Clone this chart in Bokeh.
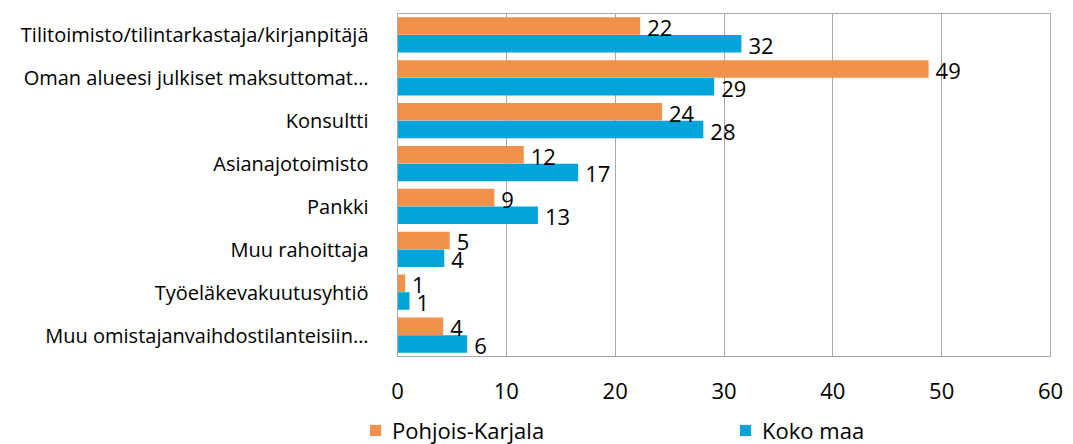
from bokeh.plotting import figure
from bokeh.layouts import column
from bokeh.models import ColumnDataSource, FactorRange, Range1d, FixedTicker, Legend, LegendItem
from bokeh.transform import dodge
from bokeh.core.properties import value
from bokeh.embed import file_html
from bokeh.resources import INLINE

categories = [
    "Tilitoimisto/tilintarkastaja/kirjanpitäjä",
    "Oman alueesi julkiset maksuttomat…",
    "Konsultti",
    "Asianajotoimisto",
    "Pankki",
    "Muu rahoittaja",
    "Työeläkevakuutusyhtiö",
    "Muu omistajanvaihdostilanteisiin…",
]
pohjois_karjala = [22.3, 48.8, 24.3, 11.6, 8.9, 4.8, 0.7, 4.2]
koko_maa = [31.6, 29.1, 28.1, 16.6, 12.9, 4.3, 1.1, 6.4]
x_ticks = [0, 10, 20, 30, 40, 50, 60]
series_names = ["Pohjois-Karjala", "Koko maa"]

ORANGE = "#F1914B"
BLUE = "#00A3DA"
GRID = "#A8A8A8"
FONT = "Open Sans"

src = ColumnDataSource(dict(
    cat=categories,
    pk=pohjois_karjala,
    km=koko_maa,
    pk_lbl=[f"{v:.0f}" for v in pohjois_karjala],
    km_lbl=[f"{v:.0f}" for v in koko_maa],
))

p = figure(
    width=1073, height=406,
    y_range=FactorRange(factors=list(reversed(categories)), range_padding=0),
    x_range=Range1d(0, 60),
    output_backend="svg", toolbar_location=None,
    min_border_left=397, min_border_right=23, min_border_top=13, min_border_bottom=50,
)
p.frame_align = False
p.y_range.range_padding = 0

r_pk = p.hbar(y=dodge("cat", 0.207, range=p.y_range), right="pk", left=0, height=0.41,
              color=ORANGE, line_color=None, source=src)
r_km = p.hbar(y=dodge("cat", -0.207, range=p.y_range), right="km", left=0, height=0.41,
              color=BLUE, line_color=None, source=src)

p.text(x="pk", y=dodge("cat", 0.207, range=p.y_range), text="pk_lbl", source=src,
       x_offset=7, y_offset=2, text_baseline="middle", text_align="left",
       text_font=value(FONT), text_font_size="22px", text_color="black")
p.text(x="km", y=dodge("cat", -0.207, range=p.y_range), text="km_lbl", source=src,
       x_offset=7, y_offset=2, text_baseline="middle", text_align="left",
       text_font=value(FONT), text_font_size="22px", text_color="black")

# grid / outline
p.xgrid.ticker = FixedTicker(ticks=x_ticks)
p.xgrid.grid_line_color = GRID
p.xgrid.grid_line_width = 1
p.ygrid.grid_line_color = None
p.outline_line_color = GRID
p.outline_line_width = 1
p.background_fill_color = "white"
p.border_fill_color = "white"

# x axis
p.xaxis.ticker = FixedTicker(ticks=x_ticks)
p.xaxis.axis_line_color = None
p.xaxis.major_tick_line_color = None
p.xaxis.minor_tick_line_color = None
p.xaxis.major_label_standoff = 20
p.xaxis.major_label_text_font = FONT
p.xaxis.major_label_text_font_size = "22px"
p.xaxis.major_label_text_color = "black"

# y axis
p.yaxis.axis_line_color = GRID
p.yaxis.major_tick_line_color = None
p.yaxis.minor_tick_line_color = None
p.yaxis.major_label_standoff = 23
p.yaxis.major_label_text_font = FONT
p.yaxis.major_label_text_font_size = "20px"
p.yaxis.major_label_text_color = "black"

# legend strip (separate figure so the legend can sit left of the plot frame)
leg = figure(width=1073, height=38, x_range=Range1d(0, 1), y_range=Range1d(0, 1),
             output_backend="svg", toolbar_location=None,
             x_axis_location=None, y_axis_location=None,
             min_border_left=0, min_border_right=0, min_border_top=0, min_border_bottom=0)
leg.frame_align = False
leg.grid.visible = False
leg.outline_line_color = None
# proxy renderers kept outside the visible range; they only supply legend swatches
lg_pk = leg.hbar(y=[-10], right=[-9], left=-10, height=0.5, color=ORANGE, line_color=None)
lg_km = leg.hbar(y=[-10], right=[-9], left=-10, height=0.5, color=BLUE, line_color=None)

legend = Legend(
    items=[LegendItem(label=series_names[0], renderers=[lg_pk]),
           LegendItem(label=series_names[1], renderers=[lg_km])],
    orientation="horizontal",
    location=(368, -1),
    glyph_width=14, glyph_height=14,
    label_standoff=10, spacing=194,
    padding=0, margin=0,
    border_line_color=None, background_fill_alpha=0,
    label_text_font=FONT, label_text_font_size="22px", label_text_color="black",
)
leg.add_layout(legend, "center")

layout = column(p, leg, spacing=0)
open("out.html", "w").write(file_html(layout, INLINE))
